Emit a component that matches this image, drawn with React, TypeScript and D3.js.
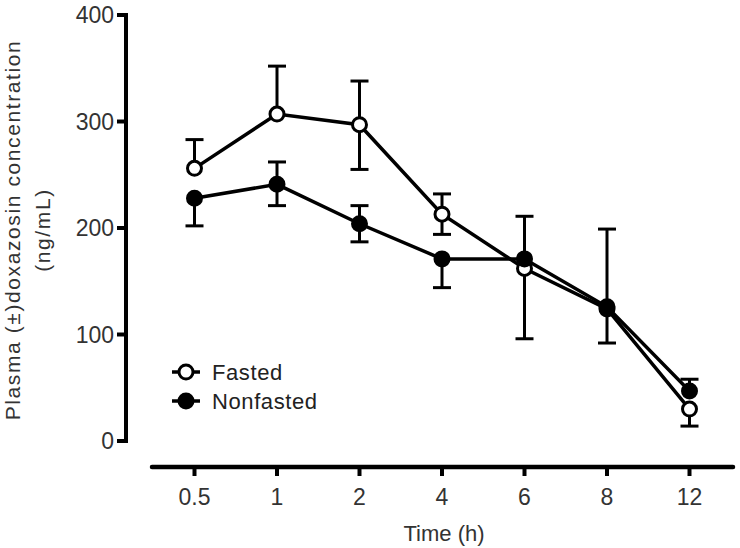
import React from "react";
import * as d3 from "d3";

const times = ["0.5", "1", "2", "4", "6", "8", "12"];
const fastedMean = [256, 307, 297, 213, 162, 124, 30];
const fastedUpper: (number | null)[] = [283, 352, 338, 232, 211, 199, null];
const fastedLower: (number | null)[] = [null, null, 255, 194, 96, 92, 14];
const nonfastedMean = [228, 241, 204, 171, 171, 126, 47];
const nonfastedUpper: (number | null)[] = [null, 262, 221, null, null, null, 58];
const nonfastedLower: (number | null)[] = [202, 221, 187, 144, null, null, null];
const yTicks = [0, 100, 200, 300, 400];
const seriesNames = ["Fasted", "Nonfasted"];

const W = 740;
const H = 548;
const FONT = "'Liberation Sans', Arial, sans-serif";

export default function App() {
  const x = d3.scalePoint<string>().domain(times).range([194.5, 689.5]);
  const y = d3.scaleLinear().domain([0, 400]).range([441, 15]);
  const line = d3
    .line<number>()
    .x((_, i) => x(times[i]) as number)
    .y((d) => y(d));

  const series = [
    { name: seriesNames[0], mean: fastedMean, up: fastedUpper, lo: fastedLower, fill: "#fff" },
    { name: seriesNames[1], mean: nonfastedMean, up: nonfastedUpper, lo: nonfastedLower, fill: "#000" },
  ];
  const axisY = 467;
  const cap = 9;

  return (
    <svg
      width={W}
      height={H}
      style={{ position: "absolute", left: 0, top: 0, background: "#fff" }}
      fontFamily={FONT}
    >
      {/* Y axis */}
      <line x1={126} x2={126} y1={y(400) - 2} y2={y(0) + 2} stroke="#000" strokeWidth={4} />
      {yTicks.map((t) => (
        <g key={t}>
          <line x1={117} x2={126} y1={y(t)} y2={y(t)} stroke="#000" strokeWidth={4} />
          <text x={114} y={y(t)} dy="0.36em" textAnchor="end" fontSize={23} fill="#333">
            {t}
          </text>
        </g>
      ))}
      {/* Y title */}
      <g transform={`translate(0, 230) rotate(-90)`}>
        <text y={20} textAnchor="middle" fontSize={21} letterSpacing={1.6} fill="#333">
          Plasma (±)doxazosin concentration
        </text>
        <text y={50} textAnchor="middle" fontSize={21} letterSpacing={1.6} fill="#333">
          (ng/mL)
        </text>
      </g>
      {/* X axis */}
      <line x1={152} x2={733} y1={axisY} y2={axisY} stroke="#000" strokeWidth={4.5} strokeLinecap="round" />
      {times.map((t) => (
        <g key={t}>
          <line x1={x(t)} x2={x(t)} y1={axisY} y2={axisY + 9} stroke="#000" strokeWidth={4} />
          <text x={x(t)} y={505} textAnchor="middle" fontSize={23} fill="#333">
            {t}
          </text>
        </g>
      ))}
      <text x={444} y={541} textAnchor="middle" fontSize={22} fill="#333">
        Time (h)
      </text>

      {/* lines */}
      {series.map((s) => (
        <path key={s.name + "l"} d={line(s.mean) || ""} fill="none" stroke="#000" strokeWidth={3.5} />
      ))}
      {/* error bars */}
      {series.map((s) =>
        s.mean.map((m, i) => {
          const cx = x(times[i]) as number;
          const parts: React.ReactNode[] = [];
          [s.up[i], s.lo[i]].forEach((e, k) => {
            if (e === null) return;
            parts.push(
              <g key={k}>
                <line x1={cx} x2={cx} y1={y(m)} y2={y(e)} stroke="#000" strokeWidth={3} />
                <line x1={cx - cap} x2={cx + cap} y1={y(e)} y2={y(e)} stroke="#000" strokeWidth={3} />
              </g>
            );
          });
          return <g key={s.name + "e" + i}>{parts}</g>;
        })
      )}
      {/* markers */}
      {series.map((s) =>
        s.mean.map((m, i) => (
          <circle
            key={s.name + "m" + i}
            cx={x(times[i]) as number}
            cy={y(m)}
            r={7}
            fill={s.fill}
            stroke="#000"
            strokeWidth={3}
          />
        ))
      )}
      {/* legend */}
      {series.map((s, i) => {
        const ly = 372 + i * 29;
        return (
          <g key={s.name + "leg"}>
            <line x1={172} x2={200} y1={ly} y2={ly} stroke="#000" strokeWidth={3.5} />
            <circle cx={186} cy={ly} r={7} fill={s.fill} stroke="#000" strokeWidth={3} />
            <text x={212} y={ly} dy="0.36em" fontSize={22} letterSpacing={0.6} fill="#222">
              {s.name}
            </text>
          </g>
        );
      })}
    </svg>
  );
}
